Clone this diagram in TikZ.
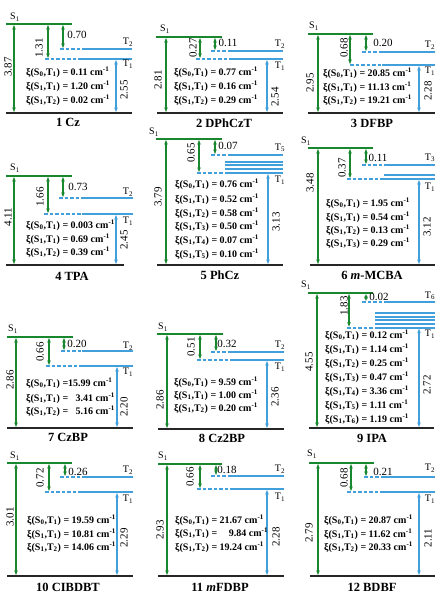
\documentclass[tikz,border=0pt]{standalone}
\usepackage{fontspec}
\setmainfont{Liberation Serif}
\usetikzlibrary{arrows.meta}
\definecolor{gr}{RGB}{25,135,45}
\definecolor{bl}{RGB}{65,160,220}
\tikzset{
 slev/.style={gr,line width=2pt},
 tlev/.style={bl,line width=2pt},
 tdash/.style={bl,line width=2pt,dash pattern=on 3.5pt off 2pt},
 blev/.style={black!85,line width=2pt},
 garr/.style={gr,line width=1.2pt,{Stealth[length=4.5pt,width=3.5pt]}-{Stealth[length=4.5pt,width=3.5pt]},shorten <=1pt,shorten >=1pt},
 barr/.style={bl,line width=1.2pt,{Stealth[length=4.5pt,width=3.5pt]}-{Stealth[length=4.5pt,width=3.5pt]},shorten <=1pt,shorten >=1pt},
 num/.style={font=\fontsize{11}{12}\selectfont,inner sep=0pt},
 xi/.style={font=\fontsize{10}{12}\selectfont\bfseries,anchor=west,inner sep=0pt},
 ttl/.style={font=\fontsize{12.5}{14}\selectfont\bfseries,inner sep=0pt},
 lab/.style={font=\fontsize{10}{12}\selectfont,inner sep=0pt},
}
\newcommand\xiline[3]{ξ(S\textsubscript{#1},T\textsubscript{#2}) = #3 cm\textsuperscript{-1}}
\newcommand\slevel[4]{\coordinate (#1) at (#3,#2); \draw[slev] (#1) -- (#4,#2);}
\newcommand\blevel[4]{\coordinate (#1) at (#3,#2); \draw[blev] (#1) -- (#4,#2);}
\newcommand\tlevel[5]{\coordinate (#1) at (#3,#2); \draw[tdash] (#1) -- (#4,#2); \draw[tlev] (#4,#2) -- (#5,#2);}
\newcommand\tsolid[4]{\coordinate (#1) at (#3,#2); \draw[tlev] (#1) -- (#4,#2);}
\newcommand\garrow[3]{\draw[garr] (#1,0 |- #2) -- (#1,0 |- #3);}
\newcommand\barrow[3]{\draw[barr] (#1,0 |- #2) -- (#1,0 |- #3);}
\begin{document}
\begin{tikzpicture}[x=1pt,y=-1pt]
\useasboundingbox[fill=white] (0,0) rectangle (447,600);
% ---------- Panel 1
\slevel{p1S}{24}{6}{72}
\tlevel{p1T2}{49}{60}{82}{132}
\tlevel{p1T1}{59}{45}{82}{132}
\blevel{p1B}{113}{6}{132}
\garrow{14}{p1S}{p1B}
\garrow{48}{p1S}{p1T1}
\garrow{63}{p1S}{p1T2}
\barrow{116}{p1B}{p1T1}
\node[lab] (p1s) at (15,17) {S\textsubscript{1}};
\node[lab] (p1t2) at (128,42) {T\textsubscript{2}};
\node[lab] (p1t1) at (128,64) {T\textsubscript{1}};
\node[num,rotate=90] (p1e1) at (8,67) {3.87};
\node[num,rotate=90] (p1e2) at (39,48) {1.31};
\node[num] (p1e3) at (77,35) {0.70};
\node[num,rotate=90] (p1e4) at (124,90) {2.55};
\node[xi] (p1x1) at (26,72) {\xiline{0}{1}{0.11}};
\node[xi] (p1x2) at (26,86) {\xiline{1}{1}{1.20}};
\node[xi] (p1x3) at (26,100) {\xiline{1}{2}{0.02}};
\node[ttl] (p1n) at (68,122) {1 Cz};
% ---------- Panel 2
\slevel{p2S}{37}{156}{222}
\tlevel{p2T2}{51}{211}{231}{283}
\tlevel{p2T1}{59}{196}{231}{283}
\blevel{p2B}{113}{157}{283}
\garrow{166}{p2S}{p2B}
\garrow{200}{p2S}{p2T1}
\garrow{215}{p2S}{p2T2}
\barrow{267}{p2B}{p2T1}
\node[lab] (p2s) at (165,29) {S\textsubscript{1}};
\node[lab] (p2t2) at (280,44) {T\textsubscript{2}};
\node[lab] (p2t1) at (280,66) {T\textsubscript{1}};
\node[num,rotate=90] (p2e1) at (158,80) {2.81};
\node[num,rotate=90] (p2e2) at (193,48) {0.27};
\node[num] (p2e3) at (228,43) {0.11};
\node[num,rotate=90] (p2e4) at (275,97) {2.54};
\node[xi] (p2x1) at (174,72) {\xiline{0}{1}{0.77}};
\node[xi] (p2x2) at (174,86) {\xiline{1}{1}{0.16}};
\node[xi] (p2x3) at (174,100) {\xiline{1}{2}{0.29}};
\node[ttl] (p2n) at (224,123) {2 DPhCzT};
% ---------- Panel 3
\slevel{p3S}{34}{308}{373}
\tlevel{p3T2}{52}{362}{382}{435}
\tlevel{p3T1}{65}{350}{382}{435}
\blevel{p3B}{113}{308}{435}
\garrow{318}{p3S}{p3B}
\garrow{350}{p3S}{p3T1}
\garrow{366}{p3S}{p3T2}
\barrow{419}{p3B}{p3T1}
\node[lab] (p3s) at (314,26) {S\textsubscript{1}};
\node[lab] (p3t2) at (430,45) {T\textsubscript{2}};
\node[lab] (p3t1) at (430,71) {T\textsubscript{1}};
\node[num,rotate=90] (p3e1) at (310,83) {2.95};
\node[num,rotate=90] (p3e2) at (344,48) {0.68};
\node[num] (p3e3) at (383,43) {0.20};
\node[num,rotate=90] (p3e4) at (428,91) {2.28};
\node[xi] (p3x1) at (323,73) {\xiline{0}{1}{20.85}};
\node[xi] (p3x2) at (323,87) {\xiline{1}{1}{11.13}};
\node[xi] (p3x3) at (323,100) {\xiline{1}{2}{19.21}};
\node[ttl] (p3n) at (372,123) {3 DFBP};
% ---------- Panel 4
\slevel{p4S}{176}{6}{72}
\tlevel{p4T2}{198}{59}{82}{133}
\tlevel{p4T1}{214}{44}{82}{133}
\blevel{p4B}{265}{6}{124}
\garrow{14}{p4S}{p4B}
\garrow{48}{p4S}{p4T1}
\garrow{63}{p4S}{p4T2}
\barrow{116}{p4B}{p4T1}
\node[lab] (p4s) at (15,168) {S\textsubscript{1}};
\node[lab] (p4t2) at (128,192) {T\textsubscript{2}};
\node[lab] (p4t1) at (128,221) {T\textsubscript{1}};
\node[num,rotate=90] (p4e1) at (8,217) {4.11};
\node[num,rotate=90] (p4e2) at (40,197) {1.66};
\node[num] (p4e3) at (78,187) {0.73};
\node[num,rotate=90] (p4e4) at (124,240) {2.45};
\node[xi] (p4x1) at (26,225) {\xiline{0}{1}{0.003}};
\node[xi] (p4x2) at (26,239) {\xiline{1}{1}{0.69}};
\node[xi] (p4x3) at (26,252) {\xiline{1}{2}{0.39}};
\node[ttl] (p4n) at (72,276) {4 TPA};
% ---------- Panel 5
\slevel{p5S}{139}{156}{222}
\tlevel{p5T5}{155}{211}{231}{283}
\tsolid{p5T4}{161.5}{225}{283}
\tsolid{p5T3}{165.2}{225}{283}
\tsolid{p5T2}{169}{225}{283}
\tlevel{p5T1}{173}{197}{225}{283}
\blevel{p5B}{265}{157}{283}
\garrow{166}{p5S}{p5B}
\garrow{199}{p5S}{p5T1}
\garrow{215}{p5S}{p5T5}
\barrow{268}{p5B}{p5T1}
\node[lab] (p5s) at (154,132) {S\textsubscript{1}};
\node[lab] (p5t5) at (280,148) {T\textsubscript{5}};
\node[lab] (p5t1) at (280,180) {T\textsubscript{1}};
\node[num,rotate=90] (p5e1) at (158,197) {3.79};
\node[num,rotate=90] (p5e2) at (191,153) {0.65};
\node[num] (p5e3) at (228,146) {0.07};
\node[num,rotate=90] (p5e4) at (276,222) {3.13};
\node[xi] (p5x1) at (175,184) {\xiline{0}{1}{0.76}};
\node[xi] (p5x2) at (175,199) {\xiline{1}{1}{0.52}};
\node[xi] (p5x3) at (175,213) {\xiline{1}{2}{0.58}};
\node[xi] (p5x4) at (175,226) {\xiline{1}{3}{0.50}};
\node[xi] (p5x5) at (175,240) {\xiline{1}{4}{0.07}};
\node[xi] (p5x6) at (175,254) {\xiline{1}{5}{0.10}};
\node[ttl] (p5n) at (220,275) {5 PhCz};
% ---------- Panel 6
\slevel{p6S}{148}{308}{373}
\tlevel{p6T3}{165}{362}{384}{435}
\tsolid{p6T2}{175}{384}{435}
\tlevel{p6T1}{179}{347}{384}{435}
\blevel{p6B}{265}{310}{435}
\garrow{318}{p6S}{p6B}
\garrow{350}{p6S}{p6T1}
\garrow{366}{p6S}{p6T3}
\barrow{419}{p6B}{p6T1}
\node[lab] (p6s) at (306,141) {S\textsubscript{1}};
\node[lab] (p6t3) at (430,158) {T\textsubscript{3}};
\node[lab] (p6t1) at (430,187) {T\textsubscript{1}};
\node[num,rotate=90] (p6e1) at (310,183) {3.48};
\node[num,rotate=90] (p6e2) at (342,168) {0.37};
\node[num] (p6e3) at (378,158) {0.11};
\node[num,rotate=90] (p6e4) at (427,227) {3.12};
\node[xi] (p6x1) at (326,203) {\xiline{0}{1}{1.95}};
\node[xi] (p6x2) at (326,217) {\xiline{1}{1}{0.54}};
\node[xi] (p6x3) at (326,230) {\xiline{1}{2}{0.13}};
\node[xi] (p6x4) at (326,243) {\xiline{1}{3}{0.29}};
\node[ttl] (p6n) at (372,275) {6 \textit{m}-MCBA};
% ---------- Panel 7
\slevel{p7S}{337}{7}{73}
\tlevel{p7T2}{351}{61}{82}{133}
\tlevel{p7T1}{366}{46}{82}{133}
\blevel{p7B}{428}{7}{133}
\garrow{16}{p7S}{p7B}
\garrow{49}{p7S}{p7T1}
\garrow{64}{p7S}{p7T2}
\barrow{117}{p7B}{p7T1}
\node[lab] (p7s) at (13,329) {S\textsubscript{1}};
\node[lab] (p7t2) at (128,346) {T\textsubscript{2}};
\node[lab] (p7t1) at (128,372) {T\textsubscript{1}};
\node[num,rotate=90] (p7e1) at (10,380) {2.86};
\node[num,rotate=90] (p7e2) at (40,352) {0.66};
\node[num] (p7e3) at (77,344) {0.20};
\node[num,rotate=90] (p7e4) at (124,407) {2.20};
\node[xi] (p7x1) at (26,383) {ξ(S\textsubscript{0},T\textsubscript{1}) =15.99 cm\textsuperscript{-1}};
\node[xi] (p7x2) at (26,398) {ξ(S\textsubscript{1},T\textsubscript{1}) = \enspace3.41 cm\textsuperscript{-1}};
\node[xi] (p7x3) at (26,411) {ξ(S\textsubscript{1},T\textsubscript{2}) = \enspace5.16 cm\textsuperscript{-1}};
\node[ttl] (p7n) at (68,437) {7 CzBP};
% ---------- Panel 8
\slevel{p8S}{334}{157}{223}
\tlevel{p8T2}{352}{211}{231}{284}
\tlevel{p8T1}{360}{197}{231}{284}
\blevel{p8B}{429}{158}{284}
\garrow{167}{p8S}{p8B}
\garrow{200}{p8S}{p8T1}
\garrow{216}{p8S}{p8T2}
\barrow{267}{p8B}{p8T1}
\node[lab] (p8s) at (163,327) {S\textsubscript{1}};
\node[lab] (p8t2) at (280,345) {T\textsubscript{2}};
\node[lab] (p8t1) at (280,367) {T\textsubscript{1}};
\node[num,rotate=90] (p8e1) at (160,400) {2.86};
\node[num,rotate=90] (p8e2) at (191,347) {0.51};
\node[num] (p8e3) at (227,344) {0.32};
\node[num,rotate=90] (p8e4) at (275,397) {2.36};
\node[xi] (p8x1) at (174,382) {\xiline{0}{1}{9.59}};
\node[xi] (p8x2) at (174,395) {\xiline{1}{1}{1.00}};
\node[xi] (p8x3) at (174,408) {\xiline{1}{2}{0.20}};
\node[ttl] (p8n) at (222,438) {8 Cz2BP};
% ---------- Panel 9
\slevel{p9S}{293}{308}{373}
\tlevel{p9T6}{302}{362}{384}{435}
\tsolid{p9T5}{313}{375}{435}
\tsolid{p9T4}{316.7}{375}{435}
\tsolid{p9T3}{320.3}{375}{435}
\tsolid{p9T2}{324}{375}{435}
\tlevel{p9T1}{327.7}{347}{375}{435}
\blevel{p9B}{428}{309}{434}
\garrow{317}{p9S}{p9B}
\garrow{349}{p9S}{p9T1}
\garrow{366}{p9S}{p9T6}
\barrow{419}{p9B}{p9T1}
\node[lab] (p9s) at (306,285) {S\textsubscript{1}};
\node[lab] (p9t6) at (430,296) {T\textsubscript{6}};
\node[lab] (p9t1) at (430,334) {T\textsubscript{1}};
\node[num,rotate=90] (p9e1) at (309,362) {4.55};
\node[num,rotate=90] (p9e2) at (344,306) {1.83};
\node[num] (p9e3) at (379,297) {0.02};
\node[num,rotate=90] (p9e4) at (427,385) {2.72};
\node[xi] (p9x1) at (325,335) {\xiline{0}{1}{0.12}};
\node[xi] (p9x2) at (325,349) {\xiline{1}{1}{1.14}};
\node[xi] (p9x3) at (325,363) {\xiline{1}{2}{0.25}};
\node[xi] (p9x4) at (325,377) {\xiline{1}{3}{0.47}};
\node[xi] (p9x5) at (325,391) {\xiline{1}{4}{3.36}};
\node[xi] (p9x6) at (325,405) {\xiline{1}{5}{1.11}};
\node[xi] (p9x7) at (325,419) {\xiline{1}{6}{1.19}};
\node[ttl] (p9n) at (372,438) {9 IPA};
% ---------- Panel 10
\slevel{p10S}{463}{7}{72}
\tlevel{p10T2}{477}{60}{82}{133}
\tlevel{p10T1}{492}{45}{82}{133}
\blevel{p10B}{576}{7}{133}
\garrow{16}{p10S}{p10B}
\garrow{49}{p10S}{p10T1}
\garrow{65}{p10S}{p10T2}
\barrow{117}{p10B}{p10T1}
\node[lab] (p10s) at (15,456) {S\textsubscript{1}};
\node[lab] (p10t2) at (128,470) {T\textsubscript{2}};
\node[lab] (p10t1) at (128,499) {T\textsubscript{1}};
\node[num,rotate=90] (p10e1) at (10,517) {3.01};
\node[num,rotate=90] (p10e2) at (40,478) {0.72};
\node[num] (p10e3) at (78,472) {0.26};
\node[num,rotate=90] (p10e4) at (124,538) {2.29};
\node[xi] (p10x1) at (27,520) {\xiline{0}{1}{19.59}};
\node[xi] (p10x2) at (27,534) {\xiline{1}{1}{10.81}};
\node[xi] (p10x3) at (27,547) {\xiline{1}{2}{14.06}};
\node[ttl] (p10n) at (68,587) {10 CIBDBT};
% ---------- Panel 11
\slevel{p11S}{464}{158}{222}
\tlevel{p11T2}{476}{211}{231}{284}
\tlevel{p11T1}{489}{197}{231}{284}
\blevel{p11B}{576}{158}{284}
\garrow{167}{p11S}{p11B}
\garrow{200}{p11S}{p11T1}
\garrow{216}{p11S}{p11T2}
\barrow{267}{p11B}{p11T1}
\node[lab] (p11s) at (163,456) {S\textsubscript{1}};
\node[lab] (p11t2) at (280,469) {T\textsubscript{2}};
\node[lab] (p11t1) at (280,497) {T\textsubscript{1}};
\node[num,rotate=90] (p11e1) at (160,530) {2.93};
\node[num,rotate=90] (p11e2) at (190,477) {0.66};
\node[num] (p11e3) at (227,470) {0.18};
\node[num,rotate=90] (p11e4) at (276,537) {2.28};
\node[xi] (p11x1) at (175,520) {\xiline{0}{1}{21.67}};
\node[xi] (p11x2) at (175,533) {ξ(S\textsubscript{1},T\textsubscript{1}) = \enspace\, 9.84 cm\textsuperscript{-1}};
\node[xi] (p11x3) at (175,547) {\xiline{1}{2}{19.24}};
\node[ttl] (p11n) at (220,587) {11 \textit{m}FDBP};
% ---------- Panel 12
\slevel{p12S}{463}{309}{374}
\tlevel{p12T2}{477}{364}{384}{435}
\tlevel{p12T1}{492}{347}{384}{435}
\blevel{p12B}{576}{310}{435}
\garrow{318}{p12S}{p12B}
\garrow{351}{p12S}{p12T1}
\garrow{366}{p12S}{p12T2}
\barrow{419}{p12B}{p12T1}
\node[lab] (p12s) at (312,454) {S\textsubscript{1}};
\node[lab] (p12t2) at (430,468) {T\textsubscript{2}};
\node[lab] (p12t1) at (430,499) {T\textsubscript{1}};
\node[num,rotate=90] (p12e1) at (309,533) {2.79};
\node[num,rotate=90] (p12e2) at (344,478) {0.68};
\node[num] (p12e3) at (383,472) {0.21};
\node[num,rotate=90] (p12e4) at (428,538) {2.11};
\node[xi] (p12x1) at (324,520) {\xiline{0}{1}{20.87}};
\node[xi] (p12x2) at (324,534) {\xiline{1}{1}{11.62}};
\node[xi] (p12x3) at (324,547) {\xiline{1}{2}{20.33}};
\node[ttl] (p12n) at (372,587) {12 BDBF};
\end{tikzpicture}
\end{document}
